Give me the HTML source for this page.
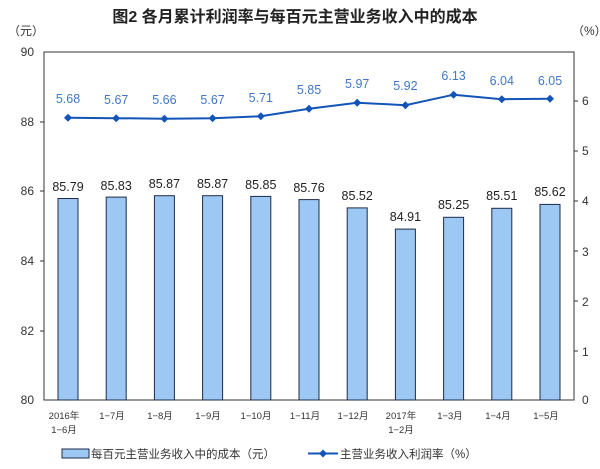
<!DOCTYPE html>
<html><head><meta charset="utf-8"><style>body{margin:0;background:#fff}svg{display:block}</style></head>
<body>
<svg width="600" height="469" xmlns="http://www.w3.org/2000/svg" font-family="Liberation Sans, Noto Sans CJK SC, sans-serif">
<rect width="600" height="469" fill="#fff"/>
<text x="295" y="22" text-anchor="middle" font-size="16" font-weight="bold" fill="#222">图2  各月累计利润率与每百元主营业务收入中的成本</text>
<text x="8" y="35" font-size="12" fill="#333">（元）</text>
<text x="572" y="35" font-size="12" fill="#333">（%）</text>
<g font-size="12" fill="#333" text-anchor="end">
<text x="34" y="56">90</text><text x="34" y="126">88</text><text x="34" y="195">86</text><text x="34" y="265">84</text><text x="34" y="335">82</text><text x="34" y="404">80</text>
</g>
<g font-size="12" fill="#333">
<text x="582" y="105">6</text><text x="582" y="155">5</text><text x="582" y="205">4</text><text x="582" y="256">3</text><text x="582" y="306">2</text><text x="582" y="356">1</text><text x="582" y="404">0</text>
</g>
<rect x="44" y="52" width="530" height="348" fill="none" stroke="#333" stroke-width="1"/>
<g stroke="#333">
<line x1="574" y1="101" x2="578" y2="101"/><line x1="574" y1="151" x2="578" y2="151"/><line x1="574" y1="201" x2="578" y2="201"/><line x1="574" y1="251" x2="578" y2="251"/><line x1="574" y1="301" x2="578" y2="301"/><line x1="574" y1="351" x2="578" y2="351"/>
<line x1="40" y1="122" x2="44" y2="122"/><line x1="40" y1="191" x2="44" y2="191"/><line x1="40" y1="261" x2="44" y2="261"/><line x1="40" y1="331" x2="44" y2="331"/>
</g>
<g fill="#9dc8f3" stroke="#1d2b48" stroke-width="1">
<rect x="58" y="198.5" width="20" height="201.5"/>
<rect x="106.2" y="197.1" width="20" height="202.9"/>
<rect x="154.4" y="195.7" width="20" height="204.3"/>
<rect x="202.6" y="195.7" width="20" height="204.3"/>
<rect x="250.8" y="196.4" width="20" height="203.6"/>
<rect x="299" y="199.6" width="20" height="200.4"/>
<rect x="347.2" y="207.9" width="20" height="192.1"/>
<rect x="395.4" y="229.1" width="20" height="170.9"/>
<rect x="443.6" y="217.3" width="20" height="182.7"/>
<rect x="491.8" y="208.3" width="20" height="191.7"/>
<rect x="540" y="204.4" width="20" height="195.6"/>
</g>
<g font-size="12.5" fill="#222" text-anchor="middle">
<text x="68" y="191">85.79</text><text x="116.2" y="190">85.83</text><text x="164.4" y="188">85.87</text><text x="212.6" y="188">85.87</text><text x="260.8" y="189">85.85</text><text x="309" y="192">85.76</text><text x="357.2" y="200">85.52</text><text x="405.4" y="221">84.91</text><text x="453.6" y="209">85.25</text><text x="501.8" y="200">85.51</text><text x="550" y="196">85.62</text>
</g>
<polyline fill="none" stroke="#1254b8" stroke-width="2" points="68,117.7 116.2,118.2 164.4,118.7 212.6,118.2 260.8,116.2 309,108.7 357.2,102.7 405.4,105.2 453.6,94.7 501.8,99.2 550,98.7"/>
<g fill="#1254b8">
<path d="M68,113.7l4,4l-4,4l-4,-4z"/><path d="M116.2,114.2l4,4l-4,4l-4,-4z"/><path d="M164.4,114.7l4,4l-4,4l-4,-4z"/><path d="M212.6,114.2l4,4l-4,4l-4,-4z"/><path d="M260.8,112.2l4,4l-4,4l-4,-4z"/><path d="M309,104.7l4,4l-4,4l-4,-4z"/><path d="M357.2,98.7l4,4l-4,4l-4,-4z"/><path d="M405.4,101.2l4,4l-4,4l-4,-4z"/><path d="M453.6,90.7l4,4l-4,4l-4,-4z"/><path d="M501.8,95.2l4,4l-4,4l-4,-4z"/><path d="M550,94.7l4,4l-4,4l-4,-4z"/>
</g>
<g font-size="12.5" fill="#3f78c8" text-anchor="middle">
<text x="68" y="103">5.68</text><text x="116.2" y="104">5.67</text><text x="164.4" y="104">5.66</text><text x="212.6" y="104">5.67</text><text x="260.8" y="102">5.71</text><text x="309" y="94">5.85</text><text x="357.2" y="88">5.97</text><text x="405.4" y="90">5.92</text><text x="453.6" y="80">6.13</text><text x="501.8" y="85">6.04</text><text x="550" y="85">6.05</text>
</g>
<g font-size="9.5" fill="#333" text-anchor="middle">
<text x="64" y="419">2016年</text><text x="64" y="433">1−6月</text>
<text x="112" y="419">1−7月</text><text x="160" y="419">1−8月</text><text x="208" y="419">1−9月</text><text x="256" y="419">1−10月</text><text x="305" y="419">1−11月</text><text x="353" y="419">1−12月</text>
<text x="401" y="419">2017年</text><text x="401" y="433">1−2月</text>
<text x="450" y="419">1−3月</text><text x="498" y="419">1−4月</text><text x="546" y="419">1−5月</text>
</g>
<rect x="62" y="449" width="27" height="9" fill="#9dc8f3" stroke="#1d2b48"/>
<text x="91" y="458" font-size="11.5" fill="#333">每百元主营业务收入中的成本（元）</text>
<line x1="308" y1="453.5" x2="338" y2="453.5" stroke="#1254b8" stroke-width="2"/>
<path d="M323,449.5l4,4l-4,4l-4,-4z" fill="#1254b8"/>
<text x="340" y="458" font-size="11.5" fill="#333">主营业务收入利润率（%）</text>
</svg>
</body></html>
